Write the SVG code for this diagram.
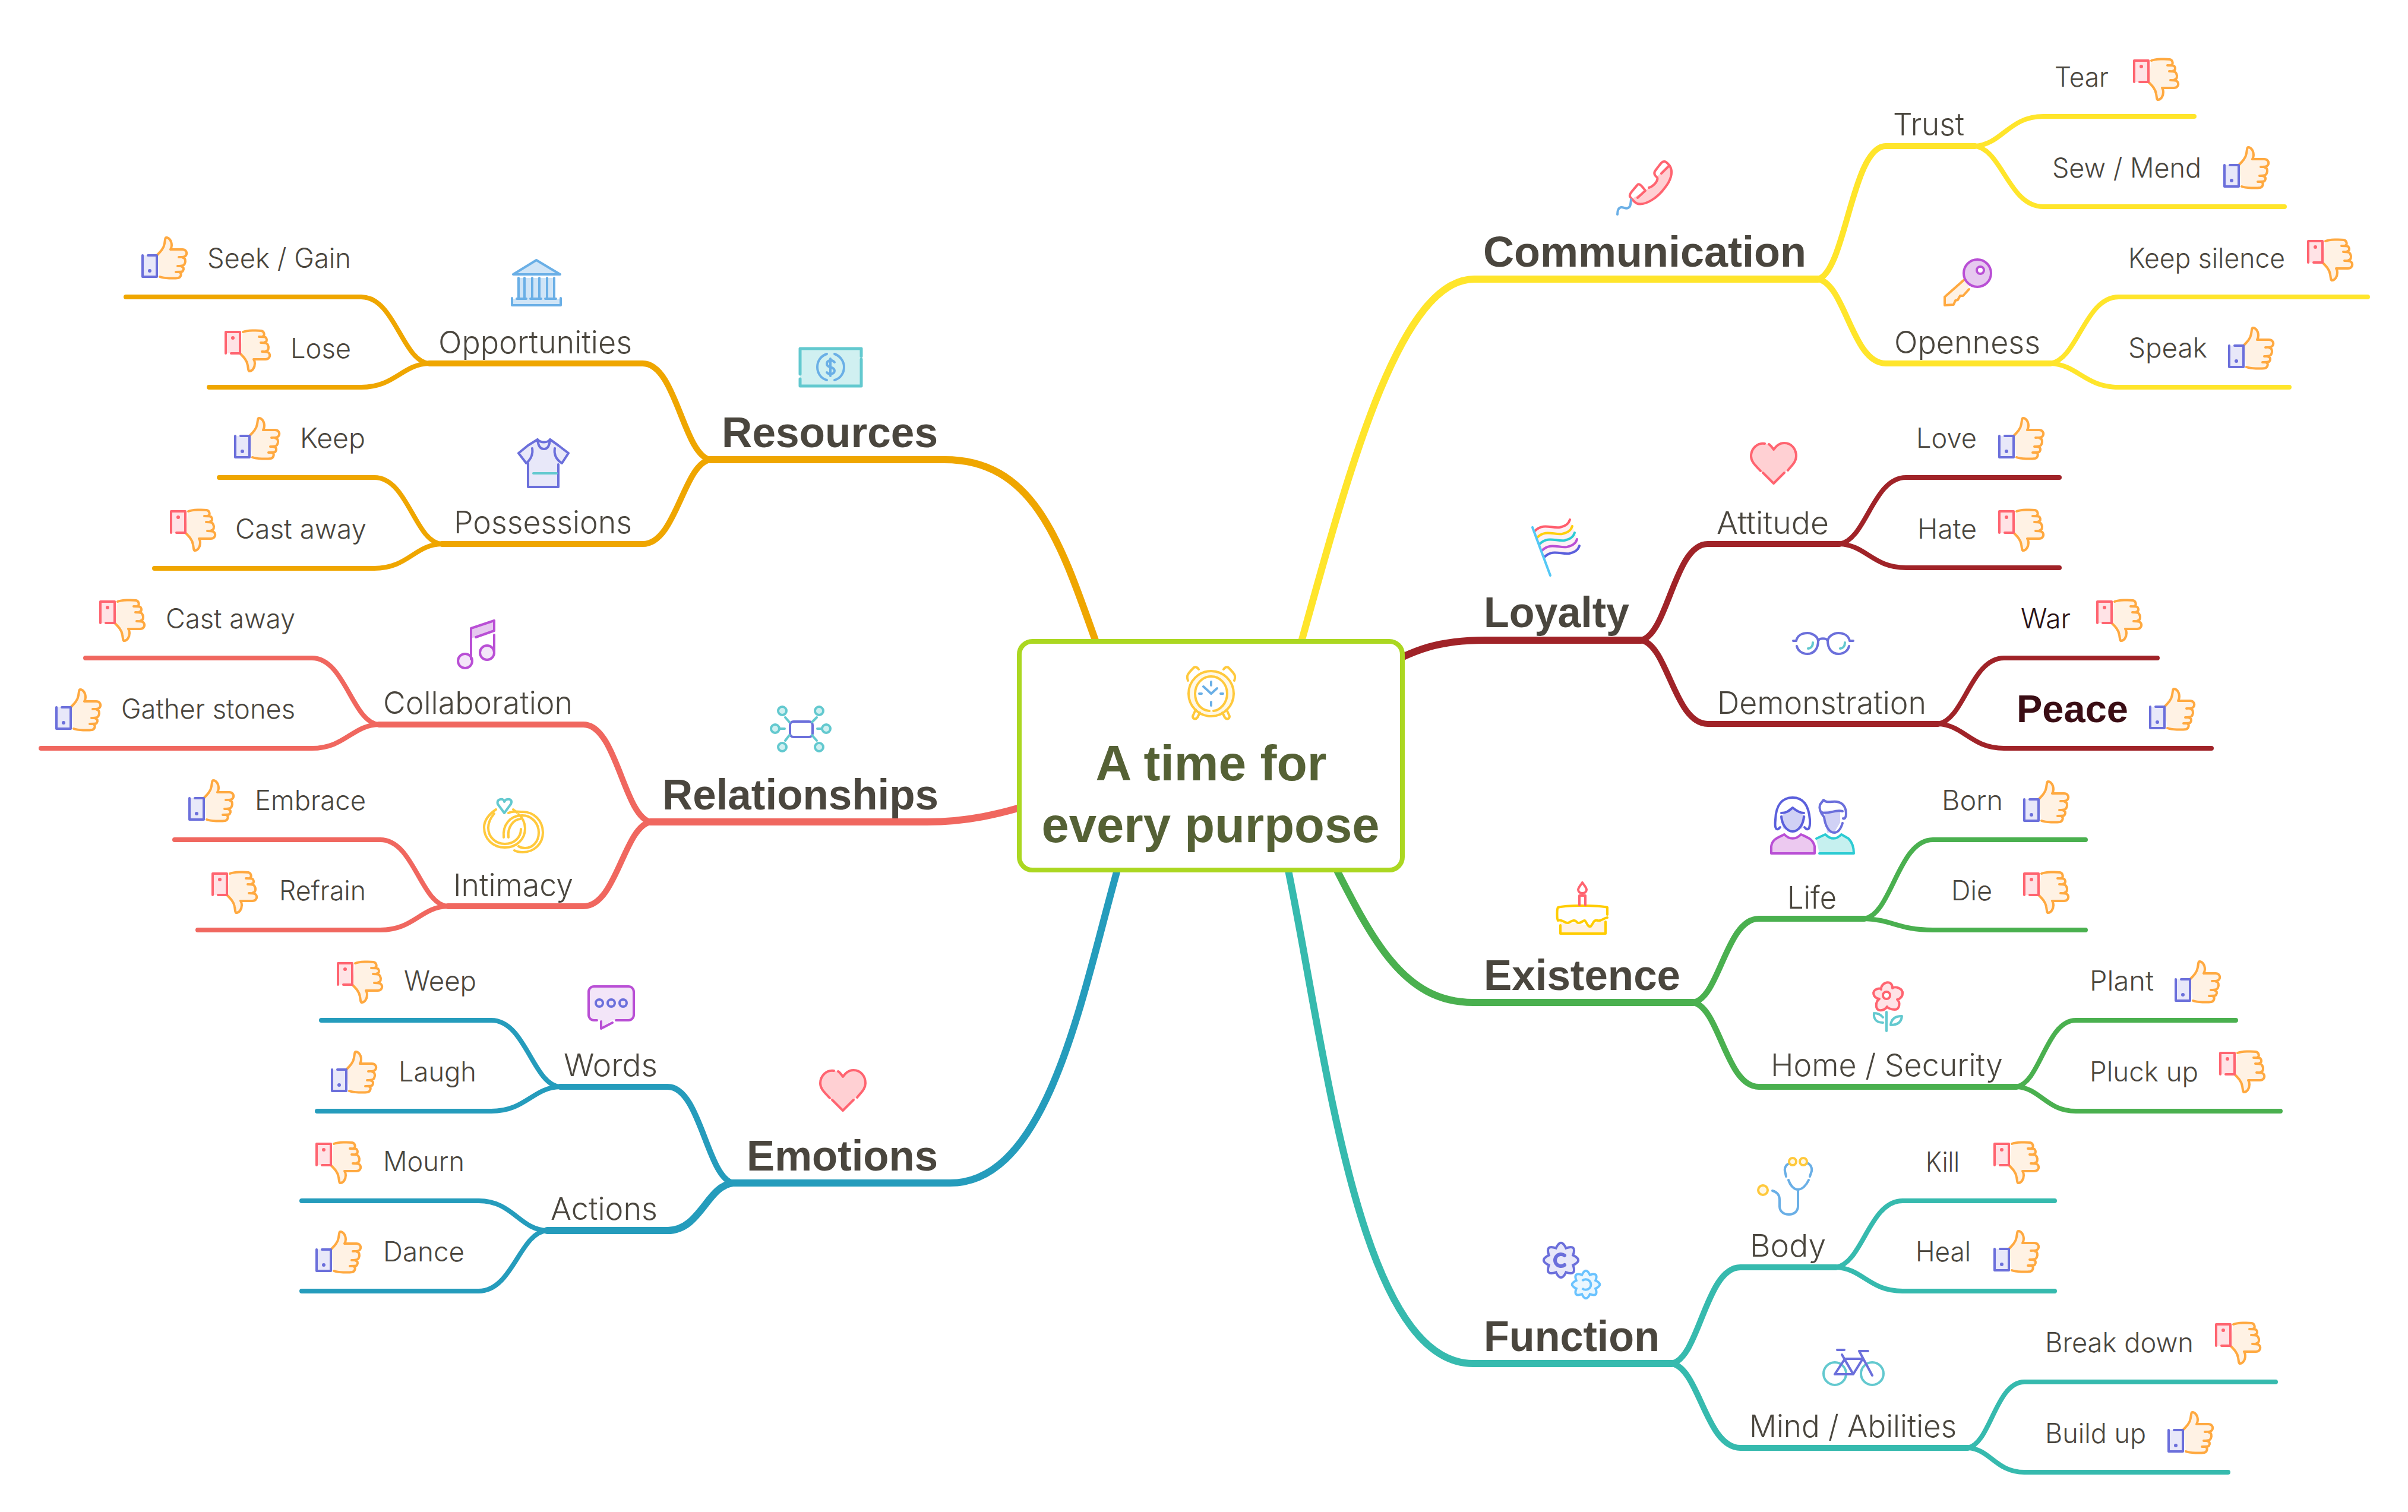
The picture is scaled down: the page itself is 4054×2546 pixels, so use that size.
<svg xmlns="http://www.w3.org/2000/svg" width="4054" height="2546" viewBox="0 0 4054 2546">
<style>
text{fill:#4a463e}
.m{font:700 72px "Liberation Sans",Arial,sans-serif}
.c{font:700 84px "Liberation Sans",Arial,sans-serif;fill:#556135;text-anchor:middle}
.s{font:300 52px Inter,"Liberation Sans",sans-serif}
.l{font:300 46px Inter,"Liberation Sans",sans-serif}
.conn path{fill:none;stroke-linecap:round;stroke-linejoin:round}
.a{stroke-width:12}.b{stroke-width:10}.d{stroke-width:8}
.ye{stroke:#ffe52b}.re{stroke:#a02328}.gr{stroke:#4ab04f}.te{stroke:#36baae}.or{stroke:#efa600}.co{stroke:#f0675f}.bl{stroke:#259cbc}
.i{stroke-width:4;stroke-linecap:round;stroke-linejoin:round;fill:none}
.pu{stroke:#6b6fdb}.rd{stroke:#ff6470}.og{stroke:#ffa940}.sk{stroke:#6aafe6}.tl{stroke:#63c9cf}.vi{stroke:#b94fd5}.yl{stroke:#ffc93c}.cy{stroke:#2ccbd3}
</style>
<defs>
<g id="hand-up">
<path fill="#fff2e4" stroke="none" d="M26 32C32 26 38 20 39 12C40 6 40 2 42 2C47 2 51 8 51 15C51 19 49 22 49 22L69 22C74 22 77 26 76 30C75 35 73 36 70 36C74 37 75 42 73 46C72 49 70 50 68 50C71 51 72 55 70 58C69 60 68 60 65 60C68 61 67 69 62 70C56 71 38 71 31 68Z"/>
<path class="i og" d="M26 32C32 26 38 20 39 12C40 6 40 2 42 2C47 2 51 8 51 15C51 19 49 22 49 22L69 22C74 22 77 26 76 30C75 34 72 35 63 35M70 36C74 36 75 42 73 46C72 49 70 50 61 50M68 51C71 51 72 55 70 58C69 60 67 60 58 60M65 61C68 62 67 69 62 70C56 71 38 71 31 68"/>
</g>
<g id="up">
<use href="#hand-up"/>
<path fill="#e8e8f9" stroke="none" d="M2 32H26V68H2Z"/>
<path class="i pu" d="M2 32V68H26V32H11"/>
<circle cx="14" cy="58" r="3" fill="#6b6fdb"/>
</g>
<g id="down">
<g transform="translate(0 72) scale(1 -1)"><use href="#hand-up"/>
<path fill="#ffe3e6" stroke="none" d="M2 32H26V68H2Z"/>
<path class="i rd" d="M2 32V68H26V32H11"/>
<circle cx="14" cy="58" r="3" fill="#ff6470"/></g>
</g>
<g id="heart">
<path fill="#ffd0d3" d="M0 11C6 3 12 0 18 0C30 0 38 10 38 22C38 32 28 42 18 50L0 68L-18 50C-28 42 -38 32 -38 22C-38 10 -30 0 -18 0C-12 0 -6 3 0 11Z"/>
<path class="i rd" d="M-15 1C-28 -1 -38 10 -38 22C-38 32 -30 38 -22 47M-8 2C-5 4 -2 8 0 11C3 7 8 0 18 0C30 0 38 10 38 22C38 32 30 38 24 46M-18 50L0 68L18 50"/>
</g>
<path id="gear" d="M20.3 8.4Q26.9 26.9 8.4 20.3Q0 38 -8.4 20.3Q-26.9 26.9 -20.3 8.4Q-38 0 -20.3 -8.4Q-26.9 -26.9 -8.4 -20.3Q0 -38 8.4 -20.3Q26.9 -26.9 20.3 -8.4Q38 0 20.3 8.4Z"/>
</defs>
<rect width="4054" height="2546" fill="#fff"/>

<g id="connectors" class="conn">
<path class="a ye" d="M2160 1190C2250 880 2340 470 2482 470L3061 470"/>
<path class="b ye" d="M3061 470C3107 457 3118 246 3175 246L3325 246"/>
<path class="b ye" d="M3061 470C3107 479 3118 612 3175 612L3452 612"/>
<path class="d ye" d="M3325 246C3371 243 3382 196 3440 196L3694 196"/>
<path class="d ye" d="M3325 246C3371 252 3382 348 3440 348L3846 348"/>
<path class="d ye" d="M3452 612C3498 605 3510 500 3567 500L3986 500"/>
<path class="d ye" d="M3452 612C3498 614 3510 652 3567 652L3854 652"/>

<path class="a re" d="M2310 1135C2380 1090 2430 1078 2500 1078L2763 1078"/>
<path class="b re" d="M2763 1078C2808 1068 2819 916 2875 916L3097 916"/>
<path class="b re" d="M2763 1078C2808 1086 2819 1219 2875 1219L3263 1219"/>
<path class="d re" d="M3097 916C3142 909 3153 804 3209 804L3467 804"/>
<path class="d re" d="M3097 916C3142 918 3153 956 3209 956L3467 956"/>
<path class="d re" d="M3263 1219C3307 1212 3318 1108 3374 1108L3632 1108"/>
<path class="d re" d="M3263 1219C3307 1221 3318 1260 3374 1260L3723 1260"/>

<path class="a gr" d="M2215 1395C2300 1560 2350 1688 2480 1688L2851 1688"/>
<path class="b gr" d="M2851 1688C2895 1680 2906 1547 2961 1547L3139 1547"/>
<path class="b gr" d="M2851 1688C2895 1697 2906 1830 2961 1830L3395 1830"/>
<path class="d gr" d="M3139 1547C3185 1539 3196 1414 3254 1414L3511 1414"/>
<path class="d gr" d="M3139 1547C3185 1548 3196 1566 3254 1566L3511 1566"/>
<path class="d gr" d="M3395 1830C3435 1823 3445 1718 3495 1718L3764 1718"/>
<path class="d gr" d="M3395 1830C3435 1832 3445 1871 3495 1871L3839 1871"/>

<path class="a te" d="M2155 1400C2225 1700 2275 2296 2480 2296L2815 2296"/>
<path class="b te" d="M2815 2296C2861 2286 2872 2134 2930 2134L3091 2134"/>
<path class="b te" d="M2815 2296C2861 2305 2872 2438 2930 2438L3313 2438"/>
<path class="d te" d="M3091 2134C3136 2127 3147 2022 3203 2022L3459 2022"/>
<path class="d te" d="M3091 2134C3136 2136 3147 2174 3203 2174L3459 2174"/>
<path class="d te" d="M3313 2438C3351 2431 3360 2327 3408 2327L3831 2327"/>
<path class="d te" d="M3313 2438C3351 2440 3360 2479 3408 2479L3751 2479"/>

<path class="a or" d="M1870 1150C1795 950 1760 774 1590 774L1195 774"/>
<path class="b or" d="M1195 774C1150 764 1138 612 1082 612L723 612"/>
<path class="b or" d="M1195 774C1150 783 1138 916 1082 916L744 916"/>
<path class="d or" d="M723 612C677 609 665 500 608 500L212 500"/>
<path class="d or" d="M723 612C677 613 665 652 608 652L352 652"/>
<path class="d or" d="M744 916C698 913 687 804 630 804L369 804"/>
<path class="d or" d="M744 916C698 917 687 957 630 957L260 957"/>

<path class="a co" d="M1780 1340C1680 1375 1620 1384 1560 1384L1095 1384"/>
<path class="b co" d="M1095 1384C1050 1374 1038 1220 982 1220L638 1220"/>
<path class="b co" d="M1095 1384C1050 1393 1038 1526 982 1526L754 1526"/>
<path class="d co" d="M638 1220C593 1217 581 1108 525 1108L144 1108"/>
<path class="d co" d="M638 1220C593 1221 581 1260 525 1260L69 1260"/>
<path class="d co" d="M754 1526C708 1523 697 1414 640 1414L294 1414"/>
<path class="d co" d="M754 1526C708 1527 697 1566 640 1566L333 1566"/>

<path class="a bl" d="M1900 1400C1830 1620 1780 1992 1599 1992L1234 1992"/>
<path class="b bl" d="M1234 1992C1190 1982 1179 1830 1124 1830L943 1830"/>
<path class="a bl" d="M1234 1992C1190 1997 1179 2072 1124 2072L921 2072"/>
<path class="d bl" d="M943 1830C897 1827 885 1718 827 1718L541 1718"/>
<path class="d bl" d="M943 1830C897 1831 885 1871 827 1871L534 1871"/>
<path class="d bl" d="M921 2072C875 2071 863 2022 806 2022L508 2022"/>
<path class="d bl" d="M921 2072C875 2075 863 2174 806 2174L508 2174"/>
</g>

<g id="center">
<rect x="1716" y="1080" width="645" height="385" rx="22" fill="#fff" stroke="#abd721" stroke-width="8"/>
<circle cx="2039" cy="1168" r="38" class="i yl" style="fill:#fff8e6"/>
<circle cx="2039" cy="1168" r="29" fill="#fff" stroke="none"/>
<path class="i yl" d="M2036 1197C2022 1196 2012 1184 2012 1168C2012 1152 2024 1139 2039 1139C2054 1139 2066 1152 2066 1168C2066 1184 2054 1196 2043 1197"/>
<path class="i yl" d="M2000 1146C1997 1138 1999 1135 2010 1124C2013 1122 2016 1124 2018 1127M2078 1146C2081 1138 2079 1135 2068 1124C2065 1122 2062 1124 2060 1127M2013 1195L2008 1206C2008 1211 2013 1212 2016 1208L2020 1200M2065 1195L2070 1206C2070 1211 2065 1212 2062 1208L2058 1200"/>
<path class="i sk" d="M2039 1148V1154M2039 1182V1188M2019 1168H2023M2055 1168H2059M2026 1156L2039 1168L2049 1159"/>
<text class="c" x="2039" y="1314">A time for</text>
<text class="c" x="2038" y="1418" textLength="569" lengthAdjust="spacingAndGlyphs">every purpose</text>
</g>

<g id="communication"><text class="m" x="2497" y="449">Communication</text>
<path fill="#ffd0d3" d="M2811 279C2818 290 2812 310 2803 314C2795 328 2773 345 2757 343L2747 335L2770 321L2776 316C2784 310 2792 300 2790 297L2808 280Z"/>
<path class="i rd" d="M2801 272C2803 271 2806 273 2811 279C2818 290 2812 305 2803 316C2790 334 2770 346 2757 343C2752 342 2748 336 2744 331C2743 327 2745 325 2757 311C2759 309 2762 310 2770 321L2757 333M2801 272C2798 272 2796 275 2787 287C2784 291 2785 295 2790 299C2792 304 2785 313 2776 316M2809 280L2797 292"/>
<path class="i sk" d="M2723 369C2723 363 2724 358 2729 357C2733 356 2737 361 2741 358C2744 357 2745 355 2746 344" transform="translate(0 -8)"/>
</g>
<g id="trust"><text class="s" x="3187" y="228" textLength="120" lengthAdjust="spacingAndGlyphs">Trust</text></g>
<g id="openness"><text class="s" x="3189" y="595" textLength="246" lengthAdjust="spacingAndGlyphs">Openness</text>
<path fill="#fff2e4" stroke="none" d="M3310 470L3274 500V514L3289 513L3292 507L3302 499L3315 487Z"/>
<path class="i og" d="M3308 470L3274 500V514L3289 513L3292 506L3296 505L3300 498L3305 498L3315 487"/>
<circle cx="3329" cy="460" r="23" class="i vi" style="fill:#e6c9ef"/><circle cx="3334" cy="455" r="6" class="i vi" style="fill:#fff"/></g>
<g id="tear"><text class="l" x="3459" y="146" textLength="91" lengthAdjust="spacingAndGlyphs">Tear</text><use href="#down" x="3591" y="98"/></g>
<g id="sew"><text class="l" x="3455" y="299" textLength="251" lengthAdjust="spacingAndGlyphs">Sew / Mend</text><use href="#up" x="3743" y="246"/></g>
<g id="keep-silence"><text class="l" x="3583" y="451" textLength="264" lengthAdjust="spacingAndGlyphs">Keep silence</text><use href="#down" x="3884" y="402"/></g>
<g id="speak"><text class="l" x="3583" y="602" textLength="133" lengthAdjust="spacingAndGlyphs">Speak</text><use href="#up" x="3751" y="550"/></g>

<g id="loyalty"><text class="m" x="2498" y="1056" textLength="245" lengthAdjust="spacingAndGlyphs">Loyalty</text>
<path fill="#fdf0f5" d="M2584 894C2598 880 2612 890 2626 888C2636 886 2641 882 2643 875L2660 920C2656 930 2650 932 2640 933C2626 934 2612 926 2600 940Z"/>
<path class="i" stroke="#ff5c6c" d="M2584 894C2598 880 2612 890 2626 888C2636 886 2641 882 2643 875"/>
<path class="i" stroke="#ffcf0d" d="M2588 905C2602 891 2616 901 2630 899C2640 897 2645 893 2647 886"/>
<path class="i cy" d="M2592 916C2606 902 2620 912 2634 910C2644 908 2649 904 2651 897"/>
<path class="i vi" d="M2596 927C2610 913 2624 923 2638 921C2648 919 2653 915 2655 908"/>
<path class="i" stroke="#5a5fdc" d="M2600 938C2614 924 2628 934 2642 932C2652 930 2657 926 2659 919"/>
<path class="i" stroke="#55c8f5" d="M2580 888L2610 969"/>
</g>
<g id="attitude"><text class="s" x="2890" y="899" textLength="189" lengthAdjust="spacingAndGlyphs">Attitude</text><use href="#heart" x="2986" y="746"/></g>
<g id="demonstration"><text class="s" x="2891" y="1202" textLength="352" lengthAdjust="spacingAndGlyphs">Demonstration</text>
<path class="i pu" d="M3019 1079H3024C3026 1070 3034 1066 3043 1066C3052 1066 3060 1072 3061 1079C3063 1074 3075 1074 3077 1079C3078 1072 3086 1066 3095 1066C3104 1066 3112 1070 3114 1079H3120M3025 1088C3027 1096 3034 1101 3043 1101C3054 1101 3061 1092 3061 1079M3077 1079C3077 1092 3084 1101 3095 1101C3104 1101 3111 1096 3113 1088"/>
<path class="i tl" d="M3052 1082C3052 1088 3050 1091 3044 1092M3106 1082C3106 1088 3104 1091 3098 1092"/>
</g>
<g id="love"><text class="l" x="3226" y="754" textLength="102" lengthAdjust="spacingAndGlyphs">Love</text><use href="#up" x="3364" y="702"/></g>
<g id="hate"><text class="l" x="3228" y="907" textLength="100" lengthAdjust="spacingAndGlyphs">Hate</text><use href="#down" x="3364" y="857"/></g>
<g id="war"><text class="l" x="3402" y="1058" textLength="84" lengthAdjust="spacingAndGlyphs" style="fill:#2a1215">War</text><use href="#down" x="3529" y="1009"/></g>
<g id="peace"><text x="3395" y="1216" style="font:700 64px 'Liberation Sans',Arial,sans-serif;fill:#3a0d14" textLength="188" lengthAdjust="spacingAndGlyphs">Peace</text><use href="#up" x="3618" y="1158"/></g>

<g id="existence"><text class="m" x="2498" y="1667" textLength="331" lengthAdjust="spacingAndGlyphs">Existence</text>
<path fill="#fff2e4" d="M2627 1552C2640 1558 2650 1552 2660 1556C2670 1560 2690 1552 2703 1550V1572H2627Z"/>
<path class="i" stroke="#ffcc00" d="M2627 1558V1572H2703V1552M2661 1525C2645 1525 2630 1526 2623 1528C2621 1530 2621 1548 2623 1550C2630 1547 2634 1555 2640 1554C2644 1553 2650 1546 2655 1553C2660 1557 2664 1550 2668 1550C2671 1552 2673 1562 2678 1560C2683 1555 2682 1548 2690 1550C2695 1552 2700 1546 2706 1545M2706 1540V1528C2700 1526 2680 1525 2661 1525"/>
<path class="i rd" d="M2659 1524V1508H2669V1524M2664 1486C2660 1492 2657 1495 2657 1498C2657 1502 2660 1504 2664 1504C2668 1504 2671 1502 2671 1498C2671 1495 2668 1492 2664 1486Z"/>
</g>
<g id="life"><text class="s" x="3009" y="1530" textLength="83" lengthAdjust="spacingAndGlyphs">Life</text>
<path fill="#d0d1f5" d="M2997 1375L3018 1360L3040 1375L3034 1395L3018 1402L3002 1395Z M3071 1365H3098V1385L3088 1402H3076Z"/>
<path fill="#ecc9f0" d="M2982 1437V1425C2984 1412 2995 1410 3004 1405C3012 1414 3024 1414 3032 1405C3042 1410 3052 1412 3055 1425V1437Z"/>
<path fill="#c6f0ef" d="M3058 1414L3073 1405C3082 1414 3092 1414 3100 1405L3112 1412C3118 1418 3121 1428 3121 1437H3063Z"/>
<path class="i" stroke="#5a5fdc" d="M2997 1393C2992 1399 2987 1398 2989 1380C2990 1355 3001 1343 3018 1343C3035 1343 3045 1355 3047 1380C3048 1398 3043 1399 3038 1393M2999 1369C3008 1369 3012 1365 3018 1360C3024 1365 3030 1369 3037 1369M2999 1375C3000 1388 3008 1400 3018 1400C3028 1400 3036 1388 3037 1375"/>
<path class="i pu" d="M3071 1376C3066 1370 3062 1362 3064 1355L3070 1347C3073 1350 3076 1351 3084 1350C3098 1348 3108 1355 3108 1370C3108 1377 3105 1380 3103 1378M3068 1368C3078 1372 3090 1362 3102 1366M3071 1376C3073 1392 3080 1402 3088 1402C3095 1402 3099 1396 3102 1386"/>
<path class="i vi" d="M2982 1437V1425C2984 1412 2995 1410 3004 1405C3012 1414 3024 1414 3032 1405C3042 1410 3052 1412 3055 1425V1437Z"/>
<path class="i cy" d="M3058 1412L3073 1405C3082 1414 3092 1414 3100 1405L3112 1412C3118 1418 3121 1428 3121 1437H3063"/>
</g>
<g id="home"><text class="s" x="2981" y="1812" textLength="391" lengthAdjust="spacingAndGlyphs">Home / Security</text>
<path class="i rd" style="fill:#ffe3e6" d="M3164 1701C3157 1699 3157 1687 3164 1682C3153 1680 3150 1668 3161 1665C3164 1664 3168 1665 3167 1666C3166 1654 3186 1648 3186 1664C3190 1660 3204 1664 3203 1673C3203 1680 3196 1683 3194 1683C3200 1688 3198 1700 3190 1700C3184 1700 3177 1697 3177 1695C3175 1699 3170 1702 3164 1701Z"/>
<circle cx="3176" cy="1676" r="6" class="i rd" style="fill:#fff"/>
<path class="i tl" d="M3176 1704V1736M3155 1706C3154 1716 3159 1722 3170 1722M3170 1713C3166 1708 3160 1706 3155 1706M3202 1711C3190 1711 3184 1716 3183 1726C3194 1726 3201 1722 3202 1711Z"/>
</g>
<g id="born"><text class="l" x="3269" y="1364" textLength="103" lengthAdjust="spacingAndGlyphs">Born</text><use href="#up" x="3406" y="1314"/></g>
<g id="die"><text class="l" x="3285" y="1516" textLength="69" lengthAdjust="spacingAndGlyphs">Die</text><use href="#down" x="3406" y="1467"/></g>
<g id="plant"><text class="l" x="3518" y="1668" textLength="108" lengthAdjust="spacingAndGlyphs">Plant</text><use href="#up" x="3661" y="1617"/></g>
<g id="pluck"><text class="l" x="3518" y="1821" textLength="183" lengthAdjust="spacingAndGlyphs">Pluck up</text><use href="#down" x="3736" y="1769"/></g>

<g id="function"><text class="m" x="2498" y="2275" textLength="296" lengthAdjust="spacingAndGlyphs">Function</text>
<use href="#gear" x="2628" y="2122" fill="#e8e8f9" stroke="#6b6fdb" stroke-width="4"/>
<path class="i pu" style="stroke-width:6" d="M2634 2114A10 10 0 1 0 2634 2130"/>
<g transform="translate(2670 2163) scale(.8)"><use href="#gear" fill="#eaf7ff" stroke="#6ac3ff" stroke-width="5"/><path fill="none" stroke="#6ac3ff" stroke-width="5" d="M-8 -8A11 11 0 1 1 -8 8"/></g>
</g>
<g id="body"><text class="s" x="2946" y="2116" textLength="128" lengthAdjust="spacingAndGlyphs">Body</text>
<path class="i sk" d="M3012 1959C3006 1962 3004 1966 3005 1972L3007 1981M3011 1987C3014 1996 3020 2003 3027 2003C3034 2003 3041 1996 3045 1987M3047 1981L3050 1972C3051 1966 3048 1960 3042 1958M3027 2003V2031C3027 2040 3020 2045 3012 2045C3003 2045 2996 2040 2996 2031V2020C2996 2012 2991 2007 2984 2005"/>
<circle cx="3018" cy="1956" r="6" class="i yl" style="fill:#fff8e6"/><circle cx="3036" cy="1956" r="6" class="i yl" style="fill:#fff8e6"/><circle cx="2968" cy="2004" r="8" class="i yl" style="fill:#fff8e6"/>
</g>
<g id="mind"><text class="s" x="2945" y="2420" textLength="349" lengthAdjust="spacingAndGlyphs">Mind / Abilities</text>
<circle cx="3089" cy="2313" r="19" class="i tl"/><circle cx="3152" cy="2313" r="19" class="i tl"/>
<path class="i pu" d="M3093 2273H3105M3130 2275H3145M3101 2281L3120 2314L3136 2288H3106L3089 2314H3120M3130 2275L3152 2316"/>
</g>
<g id="kill"><text class="l" x="3242" y="1973" textLength="57" lengthAdjust="spacingAndGlyphs">Kill</text><use href="#down" x="3356" y="1922"/></g>
<g id="heal"><text class="l" x="3225" y="2124" textLength="93" lengthAdjust="spacingAndGlyphs">Heal</text><use href="#up" x="3356" y="2071"/></g>
<g id="break"><text class="l" x="3443" y="2277" textLength="250" lengthAdjust="spacingAndGlyphs">Break down</text><use href="#down" x="3729" y="2226"/></g>
<g id="build"><text class="l" x="3443" y="2430" textLength="170" lengthAdjust="spacingAndGlyphs">Build up</text><use href="#up" x="3649" y="2376"/></g>

<g id="resources"><text class="m" x="1215" y="753" textLength="364" lengthAdjust="spacingAndGlyphs">Resources</text>
<rect x="1347" y="587" width="103" height="63" fill="#d0f0f1"/>
<path class="i tl" d="M1450 600V587H1347V630M1347 638V650H1450V605" style="stroke-width:5"/>
<path class="i sk" d="M1392 596C1380 600 1376 610 1376 618C1376 627 1381 637 1392 640M1405 596C1416 600 1421 610 1421 618C1421 627 1416 637 1405 640M1405 610C1400 604 1392 607 1392 613C1392 620 1405 617 1405 624C1405 630 1396 632 1392 627M1398 604V633"/>
</g>
<g id="opportunities"><text class="s" x="738" y="595" textLength="326" lengthAdjust="spacingAndGlyphs">Opportunities</text>
<path fill="#d0e5f7" d="M903 438L943 462H864ZM874 468H934V503H874ZM862 503H944V514H862Z"/>
<path class="i sk" d="M903 438L864 462H943ZM873 468V503M883 468V503M896 468V503M908 468V503M921 468V503M933 468V503M870 503H886M893 503H911M918 503H936M862 502V514H944V502"/>
</g>
<g id="possessions"><text class="s" x="764" y="898" textLength="300" lengthAdjust="spacingAndGlyphs">Possessions</text>
<path fill="#e8e8f9" d="M905 740L889 750L873 763L886 780L889 778V820H940V778L946 780L957 763L940 750L926 740C922 746 910 746 905 740Z"/>
<path class="i pu" d="M905 740C910 746 922 746 926 740L940 750L957 763L946 780C938 775 932 768 934 755M905 740L889 750L873 763L886 780C892 775 898 768 896 755M905 740C906 752 911 756 916 756C921 756 925 752 926 740M889 780V820H940V782"/>
<path class="i tl" d="M898 797H937"/>
</g>
<g id="seek"><text class="l" x="349" y="451" textLength="242" lengthAdjust="spacingAndGlyphs">Seek / Gain</text><use href="#up" x="238" y="398"/></g>
<g id="lose"><text class="l" x="489" y="603" textLength="102" lengthAdjust="spacingAndGlyphs">Lose</text><use href="#down" x="378" y="555"/></g>
<g id="keep"><text class="l" x="505" y="754" textLength="110" lengthAdjust="spacingAndGlyphs">Keep</text><use href="#up" x="394" y="702"/></g>
<g id="cast-away-1"><text class="l" x="396" y="907" textLength="221" lengthAdjust="spacingAndGlyphs">Cast away</text><use href="#down" x="286" y="857"/></g>

<g id="relationships"><text class="m" x="1115" y="1363" textLength="465" lengthAdjust="spacingAndGlyphs">Relationships</text>
<rect x="1330" y="1215" width="38" height="26" rx="6" class="i pu" style="fill:#fff"/>
<path class="i tl" d="M1313 1227H1321M1376 1227H1383M1322 1208L1329 1216M1375 1208L1367 1216M1322 1247L1329 1238M1375 1247L1367 1238"/>
<g class="i tl" style="fill:#d0f0f1"><circle cx="1305" cy="1227" r="7"/><circle cx="1391" cy="1227" r="7"/><circle cx="1317" cy="1197" r="7"/><circle cx="1379" cy="1197" r="7"/><circle cx="1317" cy="1258" r="7"/><circle cx="1379" cy="1258" r="7"/></g>
</g>
<g id="collaboration"><text class="s" x="645" y="1202" textLength="319" lengthAdjust="spacingAndGlyphs">Collaboration</text>
<path fill="#e6c9ef" d="M793 1058L832 1045V1062L793 1075Z"/>
<circle cx="783" cy="1113" r="12" class="i vi" style="fill:#f4e6f9"/><circle cx="820" cy="1099" r="12" class="i vi" style="fill:#f4e6f9"/>
<path class="i vi" d="M793 1110V1058L832 1045V1062L801 1073M832 1069V1100"/>
</g>
<g id="intimacy"><text class="s" x="763" y="1509" textLength="202" lengthAdjust="spacingAndGlyphs">Intimacy</text>
<path class="i yl" d="M835 1363C822 1372 815 1382 815 1393C815 1413 830 1427 850 1427C870 1427 884 1413 884 1395C884 1385 879 1376 873 1371M870 1368L864 1363M832 1370C826 1377 822 1385 822 1394C822 1410 835 1421 850 1421C866 1421 877 1410 877 1396M856 1369C864 1365 871 1367 880 1367C899 1367 914 1382 914 1402C914 1421 899 1435 880 1435C875 1435 870 1434 866 1432M848 1410C846 1390 858 1373 879 1373C895 1373 907 1386 907 1402C907 1417 897 1428 884 1428C880 1428 876 1427 873 1425M856 1410C854 1393 864 1380 876 1379"/>
<path class="i tl" d="M849 1369L838 1354C836 1347 842 1345 846 1346C848 1347 849 1349 849 1350C850 1348 852 1346 854 1346C859 1345 863 1348 860 1354Z"/>
</g>
<g id="cast-away-2"><text class="l" x="279" y="1058" textLength="218" lengthAdjust="spacingAndGlyphs">Cast away</text><use href="#down" x="167" y="1009"/></g>
<g id="gather"><text class="l" x="204" y="1210" textLength="293" lengthAdjust="spacingAndGlyphs">Gather stones</text><use href="#up" x="93" y="1159"/></g>
<g id="embrace"><text class="l" x="429" y="1364" textLength="187" lengthAdjust="spacingAndGlyphs">Embrace</text><use href="#up" x="317" y="1312"/></g>
<g id="refrain"><text class="l" x="470" y="1516" textLength="146" lengthAdjust="spacingAndGlyphs">Refrain</text><use href="#down" x="356" y="1467"/></g>

<g id="emotions"><text class="m" x="1257" y="1971" textLength="322" lengthAdjust="spacingAndGlyphs">Emotions</text><use href="#heart" x="1419" y="1802"/></g>
<g id="words"><text class="s" x="949" y="1812" textLength="158" lengthAdjust="spacingAndGlyphs">Words</text>
<path fill="#f3e5f8" d="M1000 1661H1058C1063 1661 1067 1665 1067 1670V1709C1067 1714 1063 1718 1058 1718H1030L1012 1732V1718H1000C995 1718 991 1714 991 1709V1670C991 1665 995 1661 1000 1661Z"/>
<path class="i vi" d="M1005 1718H1000C995 1718 991 1714 991 1709V1670C991 1665 995 1661 1000 1661H1058C1063 1661 1067 1665 1067 1670V1709C1067 1714 1063 1718 1058 1718H1037M1012 1720V1732L1031 1722"/>
<g class="i pu"><circle cx="1009" cy="1689" r="6"/><circle cx="1029" cy="1689" r="6"/><circle cx="1049" cy="1689" r="6"/></g>
</g>
<g id="actions"><text class="s" x="927" y="2054" textLength="180" lengthAdjust="spacingAndGlyphs">Actions</text></g>
<g id="weep"><text class="l" x="680" y="1668" textLength="122" lengthAdjust="spacingAndGlyphs">Weep</text><use href="#down" x="567" y="1618"/></g>
<g id="laugh"><text class="l" x="671" y="1821" textLength="131" lengthAdjust="spacingAndGlyphs">Laugh</text><use href="#up" x="557" y="1769"/></g>
<g id="mourn"><text class="l" x="645" y="1972" textLength="137" lengthAdjust="spacingAndGlyphs">Mourn</text><use href="#down" x="531" y="1922"/></g>
<g id="dance"><text class="l" x="645" y="2124" textLength="137" lengthAdjust="spacingAndGlyphs">Dance</text><use href="#up" x="531" y="2072"/></g>
</svg>
